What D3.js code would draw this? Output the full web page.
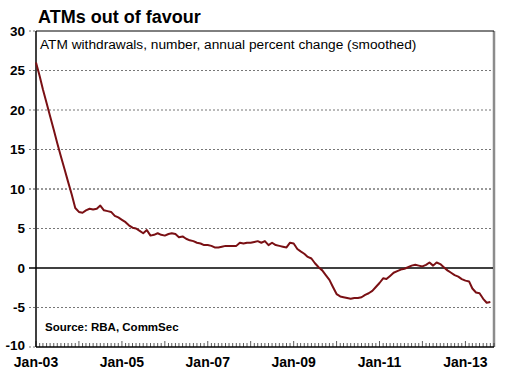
<!doctype html>
<html lang="en">
<head>
<meta charset="utf-8">
<script src="https://cdn.jsdelivr.net/npm/d3@7/dist/d3.min.js"></script>
<style>
  body { margin: 0; background: #fff; }
  text { font-family: Arial, "Liberation Sans", sans-serif; }
</style>
</head>
<body>
<div id="chart"></div>
<script>
// monthly series, first point Jan-03
var startMonth = new Date(2003, 0, 1);
var atmChange = [
  26.0, 24.3, 22.6, 20.9, 19.2, 17.5, 15.8, 14.1, 12.5, 10.9, 9.3, 7.6,
  7.1, 7.0, 7.3, 7.5, 7.4, 7.5, 7.9, 7.3, 7.2, 7.1, 6.6, 6.4,
  6.1, 5.8, 5.4, 5.1, 5.0, 4.7, 4.4, 4.8, 4.1, 4.2, 4.4, 4.2,
  4.1, 4.3, 4.4, 4.3, 3.9, 4.0, 3.7, 3.5, 3.4, 3.2, 3.1, 2.9,
  2.9, 2.8, 2.6, 2.6, 2.7, 2.8, 2.8, 2.8, 2.8, 3.2, 3.1, 3.2,
  3.2, 3.3, 3.4, 3.2, 3.4, 2.9, 3.2, 2.9, 2.8, 2.7, 2.6, 3.2,
  3.1, 2.4, 2.1, 1.8, 1.4, 1.2, 0.6, 0.1, -0.3, -0.9, -1.5, -2.4,
  -3.3, -3.6, -3.7, -3.8, -3.9, -3.8, -3.8, -3.7, -3.4, -3.2, -2.9, -2.4,
  -1.9, -1.3, -1.4, -1.0, -0.6, -0.4, -0.2, -0.1, 0.1, 0.3, 0.4, 0.3,
  0.2, 0.4, 0.7, 0.3, 0.7, 0.5, 0.1, -0.3, -0.6, -0.9, -1.1, -1.4,
  -1.6, -1.7, -2.6, -3.1, -3.2, -3.9, -4.4, -4.3
];
var yTicks = [-10, -5, 0, 5, 10, 15, 20, 25, 30];
var xLabelYears = [2003, 2005, 2007, 2009, 2011, 2013];

var title = "ATMs out of favour";
var subtitle = "ATM withdrawals, number, annual percent change (smoothed)";
var source = "Source: RBA, CommSec";

var width = 505, height = 384;
var margin = {top: 31, right: 11, bottom: 37, left: 36};
var w = width - margin.left - margin.right;
var h = height - margin.top - margin.bottom;

var data = atmChange.map(function(v, i) {
  return {date: d3.timeMonth.offset(startMonth, i), value: v};
});

var svg = d3.select("#chart").append("svg")
    .attr("width", width)
    .attr("height", height);

svg.append("text")
    .attr("x", 38).attr("y", 23)
    .attr("font-size", 18).attr("font-weight", "bold")
    .text(title);

var g = svg.append("g")
    .attr("transform", "translate(" + margin.left + "," + margin.top + ")");

var x = d3.scaleTime()
    .domain([startMonth, new Date(2013, 8, 1)])
    .range([0, w]);

var y = d3.scaleLinear()
    .domain([-10, 30])
    .range([h, 0]);

// plot frame: grey right edge
g.append("line")
    .attr("x1", w).attr("x2", w).attr("y1", 0).attr("y2", h)
    .attr("stroke", "#8c8c8c").attr("stroke-width", 2.5);
g.append("line")
    .attr("x1", 0).attr("x2", w).attr("y1", 0).attr("y2", 0)
    .attr("stroke", "#000").attr("stroke-width", 1);

// dotted gridlines
g.selectAll(".grid")
    .data(yTicks.filter(function(d) { return d !== 0 && d !== -10 && d !== 30; }))
    .enter().append("line")
    .attr("class", "grid")
    .attr("x1", -7).attr("x2", w - 1)
    .attr("y1", function(d) { return y(d); })
    .attr("y2", function(d) { return y(d); })
    .attr("stroke", function(d) { return d === 10 ? "#333" : "#777"; })
    .attr("stroke-width", 1)
    .attr("stroke-dasharray", "2,2");

// small dotted ticks at -10 and 30
g.selectAll(".edgetick")
    .data([-10, 30])
    .enter().append("line")
    .attr("x1", -7).attr("x2", 0)
    .attr("y1", function(d) { return y(d); })
    .attr("y2", function(d) { return y(d); })
    .attr("stroke", "#777")
    .attr("stroke-dasharray", "2,2");

// zero line
g.append("line")
    .attr("x1", -7).attr("x2", w - 1)
    .attr("y1", y(0)).attr("y2", y(0))
    .attr("stroke", "#000").attr("stroke-width", 1.6);

// y labels
g.selectAll(".ylab")
    .data(yTicks)
    .enter().append("text")
    .attr("x", -11)
    .attr("y", function(d) { return y(d); })
    .attr("dy", function(d) { return d === -10 ? "0.2em" : "0.35em"; })
    .attr("text-anchor", "end")
    .attr("font-size", 13.5).attr("font-weight", "bold")
    .text(function(d) { return d; });

// x axis with monthly ticks pointing up
var months = d3.timeMonth.range(startMonth, new Date(2013, 8, 2));
g.selectAll(".mtick")
    .data(months)
    .enter().append("line")
    .attr("x1", function(d) { return x(d); })
    .attr("x2", function(d) { return x(d); })
    .attr("y1", h)
    .attr("y2", function(d) { return d.getMonth() === 0 ? h - 6 : h - 4; })
    .attr("stroke", "#333").attr("stroke-width", 0.8);

g.append("line")
    .attr("x1", 0).attr("x2", w).attr("y1", h).attr("y2", h)
    .attr("stroke", "#000").attr("stroke-width", 1.5);
g.append("line")
    .attr("x1", 0).attr("x2", 0).attr("y1", 0).attr("y2", h)
    .attr("stroke", "#000").attr("stroke-width", 1.5);

var fmt = d3.timeFormat("Jan-%y");
g.selectAll(".xlab")
    .data(xLabelYears)
    .enter().append("text")
    .attr("x", function(d) { return x(new Date(d, 0, 1)); })
    .attr("y", h + 20)
    .attr("text-anchor", "middle")
    .attr("font-size", 14).attr("font-weight", "bold")
    .text(function(d) { return fmt(new Date(d, 0, 1)); });

// subtitle + source
g.append("text")
    .attr("x", 4).attr("y", 18)
    .attr("font-size", 13.7)
    .text(subtitle);
g.append("text")
    .attr("x", 9).attr("y", 300)
    .attr("font-size", 11.5).attr("font-weight", "bold")
    .text(source);

// the series
var line = d3.line()
    .x(function(d) { return x(d.date); })
    .y(function(d) { return y(d.value); });

g.append("path")
    .datum(data)
    .attr("fill", "none")
    .attr("stroke", "#7a1014")
    .attr("stroke-width", 2)
    .attr("stroke-linejoin", "round")
    .attr("d", line);
</script>
</body>
</html>
